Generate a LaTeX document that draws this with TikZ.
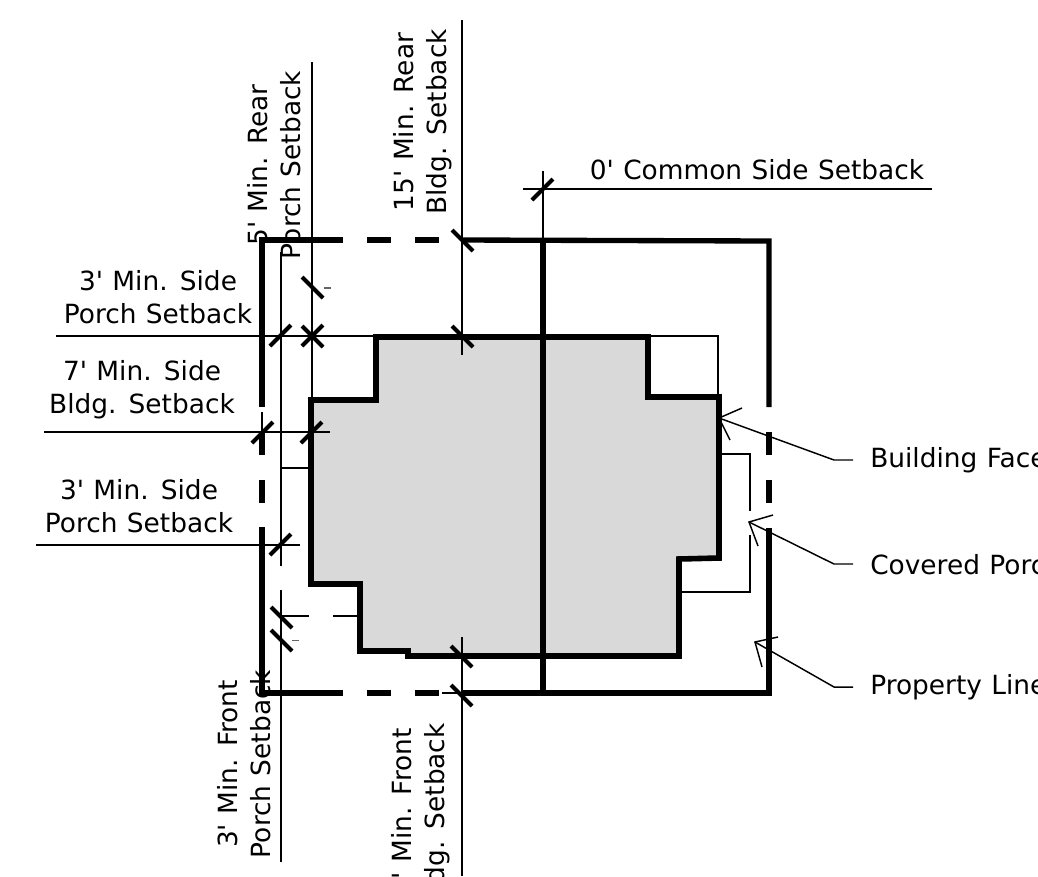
\documentclass[tikz,border=0pt]{standalone}
\usepackage{fontspec}
\setmainfont{DejaVu Sans}[WordSpace=1.12,Ligatures=TeXOff]
\tikzset{
  prop/.style={line width=4pt,line cap=butt,black},
  bldg/.style={line width=4.2pt,line join=miter,fill=black!15},
  thinl/.style={line width=1.15pt,black},
  medl/.style={line width=1.7pt,black},
  tick/.style={line width=3pt,black},
  lbl/.style={font=\fontsize{19.8pt}{24.75pt}\selectfont,inner sep=0pt,align=center,text=black},
  rlbl/.style={lbl,rotate=90},
  lead/.style={line width=1.1pt,black},
}
\begin{document}
\begin{tikzpicture}[x=0.75pt,y=-0.75pt]
\useasboundingbox (0,0) rectangle (1038,876);
\clip (0,0) rectangle (1038,876);
\fill[white] (0,0) rectangle (1038,876);
% labels below lines
\node[rlbl] (lrear5) at (274.5,165) {5' Min. Rear\\Porch Setback};
\node[rlbl] (lrear15) at (423,122) {15' Min. Rear\\Bldg. Setback};
\node[rlbl] (lfront3) at (244,764) {3' Min. Front\\Porch Setback};
\node[rlbl] (lfront15) at (421,816) {15' Min. Front\hspace*{7pt}\\Bldg. Setback};
\node[lbl] (lcommon) at (757,170) {0' Common Side Setback};
\node[lbl] (lside1) at (158,297) {3' Min. Side\\Porch Setback};
\node[lbl] (lside2) at (142,390) {7' Min. Side\\Bldg. Setback};
\node[lbl] (lside3) at (139,506) {3' Min. Side\\Porch Setback};
\node[lbl,anchor=base west] (lface) at (870,467.5) {Building Face};
\node[lbl,anchor=base west] (lporch) at (870,574) {Covered Porch};
\node[lbl,anchor=base west] (lprop) at (870,694) {Property Line};
% building
\draw[bldg] (376,337) -- (648,337) -- (648,397) -- (719,397) -- (719,558) -- (679,559) -- (679,656) -- (408,656) -- (408,651) -- (360,651) -- (360,584) -- (311,584) -- (311,400) -- (376,400) -- cycle;
% porch thin lines
\coordinate (pa) at (648,336); \coordinate (pb) at (718,336); \coordinate (pc) at (718,397);
\draw[thinl] (pa) -- (pb) -- (pc);
\coordinate (qa) at (720,454); \coordinate (qb) at (750,454); \coordinate (qc) at (750,511);
\coordinate (qd) at (750,535); \coordinate (qe) at (750,592); \coordinate (qf) at (680,592);
\draw[thinl] (qa) -- (qb) -- (qc);
\draw[thinl] (qd) -- (qe) -- (qf);
% setback verticals
\coordinate (r5t) at (312,62); \coordinate (r5b) at (312,400);
\draw[thinl] (r5t) -- (r5b);
\coordinate (r15t) at (462,20); \coordinate (r15b) at (462,355);
\draw[thinl] (r15t) -- (r15b);
\coordinate (pl1) at (281,252); \coordinate (pl2) at (281,566);
\coordinate (pl3) at (281,590); \coordinate (pl4) at (281,862);
\draw[thinl] (pl1) -- (pl2);
\draw[thinl] (pl3) -- (pl4);
\coordinate (pl5) at (281,468); \coordinate (pl6) at (311,468);
\draw[thinl] (pl5) -- (pl6);
\coordinate (f15a) at (462,637); \coordinate (f15b) at (462,876);
\draw[thinl] (f15a) -- (f15b);
\coordinate (bs1) at (442,693); \coordinate (bs2) at (462,693);
\draw[thinl] (bs1) -- (bs2);
\coordinate (s7a) at (262,412); \coordinate (s7b) at (262,450);
\draw[thinl] (s7a) -- (s7b);
% setback horizontals
\coordinate (h1a) at (56,336); \coordinate (h1b) at (376,336);
\draw[thinl] (h1a) -- (h1b);
\coordinate (h2a) at (44,432); \coordinate (h2b) at (330,432);
\draw[thinl] (h2a) -- (h2b);
\coordinate (h3a) at (36,545); \coordinate (h3b) at (300,545);
\draw[thinl] (h3a) -- (h3b);
\coordinate (h4a) at (281,616); \coordinate (h4b) at (309,616);
\coordinate (h4c) at (333,616); \coordinate (h4d) at (359,616);
\draw[thinl] (h4a) -- (h4b); \draw[thinl] (h4c) -- (h4d);
\coordinate (ca) at (523,189); \coordinate (cb) at (932,189);
\draw[thinl] (ca) -- (cb);
\coordinate (cc) at (543,171); \coordinate (cd) at (543,240);
\draw[medl] (cc) -- (cd);
% property line
\draw[prop] (343,240) -- (262,240) -- (262,407);
\draw[prop] (262,432) -- (262,455);
\draw[prop] (262,480) -- (262,503);
\draw[prop] (262,527) -- (262,693) -- (343,693);
\draw[prop] (367,240) -- (391,240); \draw[prop] (415,240) -- (439,240);
\draw[prop] (367,693) -- (391,693); \draw[prop] (415,693) -- (439,693);
\draw[prop] (462,240) -- (769,241) -- (769,407);
\draw[prop] (769,432) -- (769,455);
\draw[prop] (769,480) -- (769,503);
\draw[prop] (769,528) -- (769,693) -- (462,693);
\draw[prop] (543,240) -- (543,693);
% ticks
\foreach \p/\q in {302/277,302/326,452/230,452/326,451/646,451/685,271/607,271/630}{
  \draw[tick] (\p,\q) -- ++(21,21);
}
\foreach \p/\q in {270/346,302/346,252/443,301/443,270/555,532/200}{
  \draw[tick] (\p,\q) -- ++(21,-21);
}
\fill[black!60] (324,287) rectangle (331,288.5);
\fill[black!60] (292,639.5) rectangle (299,641);
% leaders
\coordinate (a1) at (719,418); \coordinate (a2) at (834,460); \coordinate (a3) at (853,460);
\draw[lead] (a3) -- (a2) -- (a1);
\draw[lead] (742,408) -- (a1) -- (730,440);
\coordinate (b1) at (749,522); \coordinate (b2) at (834,564); \coordinate (b3) at (853,564);
\draw[lead] (b3) -- (b2) -- (b1);
\draw[lead] (773,515) -- (b1) -- (758,546);
\coordinate (c1) at (755,642); \coordinate (c2) at (834,687); \coordinate (c3) at (853,687);
\draw[lead] (c3) -- (c2) -- (c1);
\draw[lead] (778,637) -- (c1) -- (762,667);
\end{tikzpicture}
\end{document}
